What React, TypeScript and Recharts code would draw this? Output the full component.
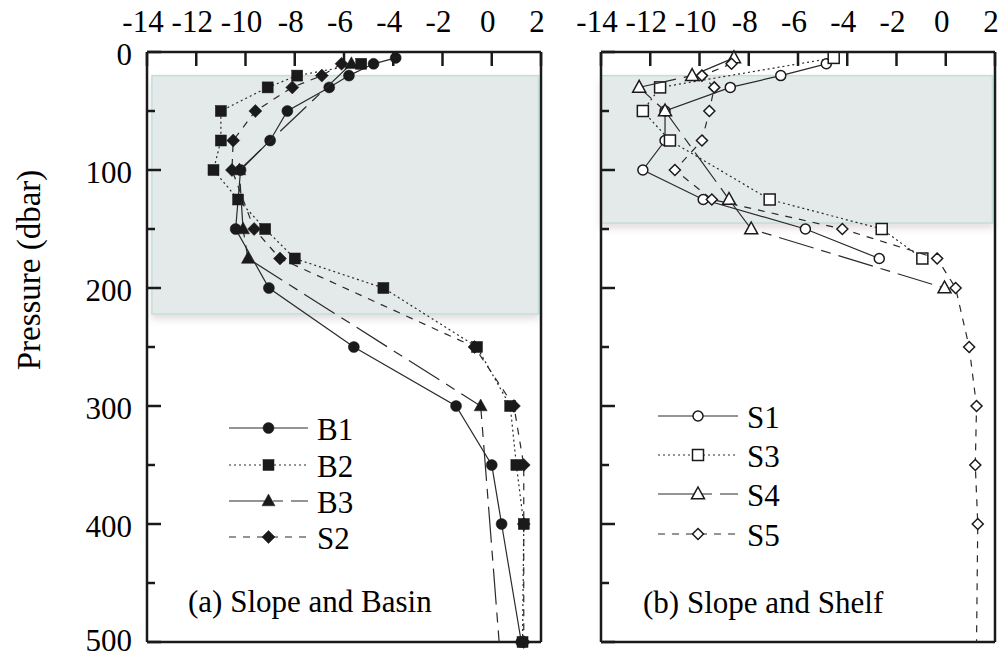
import React from "react";
import { ScatterChart, Scatter, XAxis, YAxis, ReferenceArea } from "recharts";

const X_TICKS = [-14, -12, -10, -8, -6, -4, -2, 0, 2];
const Y_TICKS = [0, 50, 100, 150, 200, 250, 300, 350, 400, 450, 500];

// (a) Slope and Basin
const b1Pressure = [5, 10, 20, 30, 50, 75, 100, 150, 200, 250, 300, 350, 400, 500];
const b1Value = [-3.9, -4.8, -5.8, -6.6, -8.3, -9.0, -10.2, -10.4, -9.05, -5.6, -1.45, 0.0, 0.4, 1.2];

const b2Pressure = [10, 20, 30, 50, 75, 100, 125, 150, 175, 200, 250, 300, 350, 400, 500];
const b2Value = [-5.3, -7.9, -9.1, -11.0, -11.0, -11.3, -10.3, -9.2, -8.0, -4.4, -0.6, 0.75, 1.0, 1.3, 1.25];

const b3Pressure = [10, 100, 150, 175, 300, 500];
const b3Value = [-5.7, -10.25, -10.1, -9.9, -0.45, 0.3];

const s2Pressure = [10, 20, 30, 50, 75, 100, 150, 175, 250, 300, 350, 400, 500];
const s2Value = [-6.1, -6.9, -8.1, -9.6, -10.5, -10.55, -9.65, -8.6, -0.7, 0.9, 1.3, 1.3, 1.3];

// (b) Slope and Shelf
const s1Pressure = [10, 20, 30, 50, 75, 100, 125, 150, 175];
const s1Value = [-4.85, -6.7, -8.75, -11.4, -11.4, -12.3, -9.85, -5.7, -2.7];

const s3Pressure = [5, 30, 50, 75, 125, 150, 175];
const s3Value = [-4.55, -11.6, -12.3, -11.2, -7.15, -2.6, -0.95];

const s4Pressure = [5, 20, 30, 50, 125, 150, 200];
const s4Value = [-8.6, -10.3, -12.45, -11.4, -8.8, -7.9, -0.05];

const s5Pressure = [10, 20, 30, 50, 75, 100, 125, 150, 175, 200, 250, 300, 350, 400, 500];
const s5Value = [-8.7, -9.9, -9.4, -9.6, -9.9, -11.0, -9.5, -4.2, -0.35, 0.4, 0.95, 1.25, 1.2, 1.3, 1.25];

// shaded layers (pressure range)
const shadeA = [20, 222];
const shadeB = [20, 145];

const FONT = "'Liberation Serif', 'DejaVu Serif', serif";
const INK = "#1a1a1a";
const LINE = "#2a2a2a";
const txt = { fontFamily: FONT, fontSize: 31, fill: "#000" };

type Pt = { v: number; p: number };
type Kind = "circle" | "square" | "triangle" | "diamond";

const zip = (p: number[], v: number[]): Pt[] => p.map((pp, i) => ({ p: pp, v: v[i] }));

const DASH: Record<string, string | undefined> = {
  solid: undefined,
  dotted: "2 3",
  longdash: "36 8 10 8",
  dashed: "7 7",
};

const leftSeries = [
  { name: "B1", data: zip(b1Pressure, b1Value), kind: "circle" as Kind, dash: "solid" },
  { name: "B2", data: zip(b2Pressure, b2Value), kind: "square" as Kind, dash: "dotted" },
  { name: "B3", data: zip(b3Pressure, b3Value), kind: "triangle" as Kind, dash: "longdash", hideAt: 500 },
  { name: "S2", data: zip(s2Pressure, s2Value), kind: "diamond" as Kind, dash: "dashed" },
];

const rightSeries = [
  { name: "S1", data: zip(s1Pressure, s1Value), kind: "circle" as Kind, dash: "solid" },
  { name: "S3", data: zip(s3Pressure, s3Value), kind: "square" as Kind, dash: "dotted" },
  { name: "S4", data: zip(s4Pressure, s4Value), kind: "triangle" as Kind, dash: "longdash" },
  { name: "S5", data: zip(s5Pressure, s5Value), kind: "diamond" as Kind, dash: "dashed", hideAt: 500 },
];

function Marker({ kind, filled, cx, cy }: { kind: Kind; filled: boolean; cx: number; cy: number }) {
  const fill = filled ? INK : "#fff";
  const stroke = INK;
  const sw = filled ? 0.5 : 1.5;
  if (kind === "circle") {
    return <circle cx={cx} cy={cy} r={filled ? 5.5 : 5} fill={fill} stroke={stroke} strokeWidth={sw} />;
  }
  if (kind === "square") {
    const h = 5.5;
    return <rect x={cx - h} y={cy - h} width={2 * h} height={2 * h} fill={fill} stroke={stroke} strokeWidth={sw} />;
  }
  if (kind === "triangle") {
    const h = 6;
    return (
      <path
        d={`M${cx},${cy - h - 1} L${cx + h + 0.5},${cy + h * 0.8} L${cx - h - 0.5},${cy + h * 0.8} Z`}
        fill={fill}
        stroke={stroke}
        strokeWidth={sw}
      />
    );
  }
  const h = filled ? 6.5 : 5.5;
  return (
    <path
      d={`M${cx},${cy - h} L${cx + h},${cy} L${cx},${cy + h} L${cx - h},${cy} Z`}
      fill={fill}
      stroke={stroke}
      strokeWidth={sw}
    />
  );
}

const TopTick = (props: any) => {
  const { x, y, payload } = props;
  return (
    <g>
      <line x1={x} x2={x} y1={y} y2={y + 14} stroke={INK} strokeWidth={2.5} />
      <text x={x - 4} y={y - 20} textAnchor="middle" style={txt}>
        {payload.value}
      </text>
    </g>
  );
};

const BottomTick = (props: any) => {
  const { x, y } = props;
  return <line x1={x} x2={x} y1={y} y2={y - 13} stroke={INK} strokeWidth={2.5} />;
};

const LeftTick = (props: any) => {
  const { x, y, payload, labels } = props;
  const major = payload.value % 100 === 0;
  // keep the lowest label inside the picture
  const dy = payload.value === 500 ? 9 : 13;
  return (
    <g>
      <line x1={x} x2={x + (major ? 14 : 8)} y1={y} y2={y} stroke={INK} strokeWidth={2.5} />
      {labels && major && (
        <text x={x - 15} y={y + dy} textAnchor="end" style={txt}>
          {payload.value}
        </text>
      )}
    </g>
  );
};

const RightTick = (props: any) => {
  const { x, y, payload } = props;
  const major = payload.value % 100 === 0;
  return <line x1={x} x2={x - (major ? 14 : 8)} y1={y} y2={y} stroke={INK} strokeWidth={2.5} />;
};

const ShadeShape = (props: any) => {
  const { x, y, width, height, id } = props;
  return (
    <g>
      <defs>
        <filter id={id} x="-5%" y="-5%" width="110%" height="120%">
          <feDropShadow dx="0" dy="5" stdDeviation="3" floodColor="#b8a8a8" floodOpacity="0.35" />
        </filter>
      </defs>
      <rect x={x} y={y} width={width} height={height} fill="#e4e9e9" stroke="#c4dedb" strokeWidth={1.5} filter={`url(#${id})`} />
    </g>
  );
};

function Panel({
  series,
  shade,
  shadeX,
  width,
  leftWidth,
  rightMargin,
  yLabels,
  id,
}: {
  series: typeof leftSeries;
  shade: number[];
  shadeX: number[];
  width: number;
  leftWidth: number;
  rightMargin: number;
  yLabels: boolean;
  id: string;
}) {
  const axisLine = { stroke: INK, strokeWidth: 2.5 };
  return (
    <ScatterChart width={width} height={659} margin={{ top: 0, right: rightMargin, bottom: 0, left: 0 }}>
      <XAxis
        xAxisId="top"
        orientation="top"
        type="number"
        dataKey="v"
        domain={[-14, 2]}
        ticks={X_TICKS}
        interval={0}
        height={52}
        tickSize={0}
        tickMargin={0}
        tickLine={false}
        axisLine={axisLine}
        tick={(p: any) => <TopTick {...p} />}
      />
      <XAxis
        xAxisId="bottom"
        orientation="bottom"
        type="number"
        domain={[-14, 2]}
        ticks={X_TICKS}
        interval={0}
        height={17}
        tickSize={0}
        tickMargin={0}
        tickLine={false}
        axisLine={axisLine}
        tick={(p: any) => <BottomTick {...p} />}
      />
      <YAxis
        yAxisId="left"
        orientation="left"
        type="number"
        dataKey="p"
        domain={[0, 500]}
        reversed
        ticks={Y_TICKS}
        interval={0}
        width={leftWidth}
        tickSize={0}
        tickMargin={0}
        tickLine={false}
        axisLine={axisLine}
        tick={(p: any) => <LeftTick {...p} labels={yLabels} />}
      />
      <YAxis
        yAxisId="right"
        orientation="right"
        type="number"
        domain={[0, 500]}
        reversed
        ticks={Y_TICKS}
        interval={0}
        width={1}
        tickSize={0}
        tickMargin={0}
        tickLine={false}
        axisLine={axisLine}
        tick={(p: any) => <RightTick {...p} />}
      />
      <ReferenceArea
        xAxisId="top"
        yAxisId="left"
        x1={shadeX[0]}
        x2={shadeX[1]}
        y1={shade[0]}
        y2={shade[1]}
        ifOverflow="visible"
        shape={(p: any) => <ShadeShape {...p} id={`shade-${id}`} />}
      />
      {series.map((s: any) => (
        <Scatter
          key={s.name}
          name={s.name}
          xAxisId="top"
          yAxisId="left"
          data={s.data}
          isAnimationActive={false}
          line={{ stroke: LINE, strokeWidth: 1.2, strokeDasharray: DASH[s.dash] }}
          shape={(p: any) =>
            s.hideAt !== undefined && p.payload && p.payload.p === s.hideAt ? (
              <g />
            ) : (
              <Marker kind={s.kind} filled={id === "a"} cx={p.cx} cy={p.cy} />
            )
          }
        />
      ))}
    </ScatterChart>
  );
}

function LegendBlock({
  series,
  filled,
  x0,
  x1,
  ys,
}: {
  series: typeof leftSeries;
  filled: boolean;
  x0: number;
  x1: number;
  ys: number[];
}) {
  const mid = (x0 + x1) / 2;
  return (
    <g>
      {series.map((s, i) => (
        <g key={s.name}>
          <line x1={x0} x2={x1} y1={ys[i]} y2={ys[i]} stroke={LINE} strokeWidth={1.2} strokeDasharray={DASH[s.dash]} />
          <Marker kind={s.kind} filled={filled} cx={mid} cy={ys[i]} />
          <text x={x1 + 9} y={ys[i] + 12} style={txt}>
            {s.name}
          </text>
        </g>
      ))}
    </g>
  );
}

export default function App() {
  return (
    <div style={{ position: "absolute", left: 0, top: 0, width: 1005, height: 659, background: "#fff" }}>
      <div style={{ position: "absolute", left: 0, top: 0 }}>
        <Panel series={leftSeries} shade={shadeA} shadeX={[-13.8, 1.9]} width={560} leftWidth={147} rightMargin={18} yLabels id="a" />
      </div>
      <div style={{ position: "absolute", left: 560, top: 0 }}>
        <Panel series={rightSeries} shade={shadeB} shadeX={[-14, 1.9]} width={445} leftWidth={41} rightMargin={9} yLabels={false} id="b" />
      </div>
      <svg width={1005} height={659} style={{ position: "absolute", left: 0, top: 0, pointerEvents: "none" }}>
        <text x={40} y={270} transform="rotate(-90 40 270)" textAnchor="middle" style={{ ...txt, fontSize: 33 }}>
          Pressure (dbar)
        </text>
        <LegendBlock series={leftSeries} filled x0={229} x1={308} ys={[428, 465, 501, 537]} />
        <LegendBlock series={rightSeries} filled={false} x0={658} x1={738} ys={[416, 455, 494, 534]} />
        <text x={188} y={612} style={txt}>
          (a) Slope and Basin
        </text>
        <text x={643} y={613} style={txt}>
          (b) Slope and Shelf
        </text>
      </svg>
    </div>
  );
}
